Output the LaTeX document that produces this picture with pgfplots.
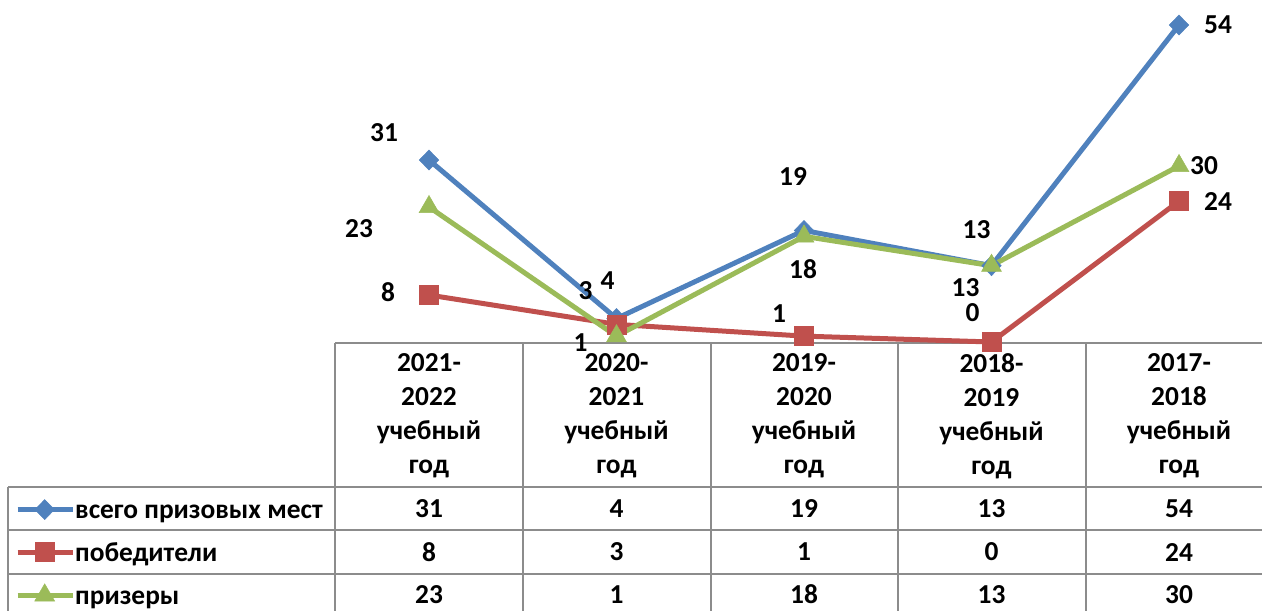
\documentclass[border=0pt]{standalone}
\usepackage{fontspec}
\setmainfont{Carlito}
\usepackage{pgfplots}
\pgfplotsset{compat=1.18}
\usepackage{pgfplotstable}
\definecolor{cblue}{HTML}{4F81BD}
\definecolor{cred}{HTML}{C0504D}
\definecolor{cgreen}{HTML}{9BBB59}
\definecolor{gridc}{HTML}{8C8C8C}
\newcommand\cf{\fontsize{27.5}{34}\selectfont\bfseries}
\pgfplotstableread{
x total dxt dyt win dxw dyw pri dxp dyp
0 31 -45 27 8 -41 3 23 -70 -22
1 4 -9 38 3 -31 34 1 -36 -6
2 19 -11 54 1 -25 23 18 -1 -33
3 13 -15 36 0 -19 29 13 -26 -22
4 54 39 0 24 39 0 30 25 0
}\data
\begin{document}
\begin{tikzpicture}
\useasboundingbox (0,0) rectangle (1262bp,611bp);
% table grid
\begin{scope}[draw=gridc, line width=2bp]
\draw (335bp,268bp) -- (1300bp,268bp);
\draw (8bp,124bp) -- (1300bp,124bp);
\draw (8bp,81bp) -- (1300bp,81bp);
\draw (8bp,37bp) -- (1300bp,37bp);
\draw (8bp,124bp) -- (8bp,-10bp);
\foreach \xx in {335,523,711,898,1086} {\draw (\xx bp,268bp) -- (\xx bp,-10bp);}
\end{scope}
\begin{axis}[
  at={(335.25bp,269bp)}, anchor=south west,
  scale only axis, x=187.5bp, y=5.87bp,
  xmin=-0.5, xmax=4.5, ymin=0, ymax=58.3,
  clip=false,
  axis line style={draw=none},
  ytick=\empty,
  xtick={0,1,2,3,4},
  major tick length=0pt,
  xticklabels={{2021-\\2022\\учебный\\год},{2020-\\2021\\учебный\\год},{2019-\\2020\\учебный\\год},{2018-\\2019\\учебный\\год},{2017-\\2018\\учебный\\год}},
  xticklabel style={anchor=center, yshift=-74bp, align=center, font=\cf},
  /pgf/number format/assume math mode=true,
  nodes near coords={\pgfmathprintnumber{\pgfplotspointmeta}},
  every node near coord/.append style={font=\cf, anchor=center, inner sep=0pt},
  legend image code/.code={\draw[mark repeat=2,mark phase=2,#1] plot coordinates {(0bp,2bp) (27bp,2bp) (55bp,2bp)};},
  legend style={at={(-0.3416,-0.4570)}, anchor=north west, draw=none, fill=none,
    inner sep=0pt, font=\cf, row sep=16.6bp,
    nodes={inner sep=0pt, text height=20bp, text depth=6bp},
    /tikz/every even column/.append style={column sep=5bp}},
  legend cell align=left,
]
\addplot[cblue, line width=5bp, mark=diamond*, mark size=10bp, mark options={solid, line width=0.5bp, xscale=1.3},
  point meta=explicit,
  visualization depends on={\thisrow{dxt}\as\dx},
  visualization depends on={\thisrow{dyt}\as\dy},
  every node near coord/.append style={xshift=\dx*1bp, yshift=\dy*1bp, text=black}]
  table[x=x, y=total, meta=total] {\data};
\addplot[cred, line width=5bp, mark=square*, mark size=9.5bp, mark options={solid, line width=0.5bp},
  point meta=explicit,
  visualization depends on={\thisrow{dxw}\as\dx},
  visualization depends on={\thisrow{dyw}\as\dy},
  every node near coord/.append style={xshift=\dx*1bp, yshift=\dy*1bp, text=black}]
  table[x=x, y=win, meta=win] {\data};
\addplot[cgreen, line width=5bp, mark=triangle*, mark size=11.5bp, mark options={solid, line width=0.5bp},
  point meta=explicit,
  visualization depends on={\thisrow{dxp}\as\dx},
  visualization depends on={\thisrow{dyp}\as\dy},
  every node near coord/.append style={xshift=\dx*1bp, yshift=\dy*1bp, text=black}]
  table[x=x, y=pri, meta=pri] {\data};
\legend{всего призовых мест, победители, призеры}
% table values
\addplot[draw=none, mark=none, forget plot, point meta=explicit] table[x=x, y expr=-28.45, meta=total] {\data};
\addplot[draw=none, mark=none, forget plot, point meta=explicit] table[x=x, y expr=-35.78, meta=win] {\data};
\addplot[draw=none, mark=none, forget plot, point meta=explicit] table[x=x, y expr=-43.0, meta=pri] {\data};
\end{axis}
\end{tikzpicture}
\end{document}
